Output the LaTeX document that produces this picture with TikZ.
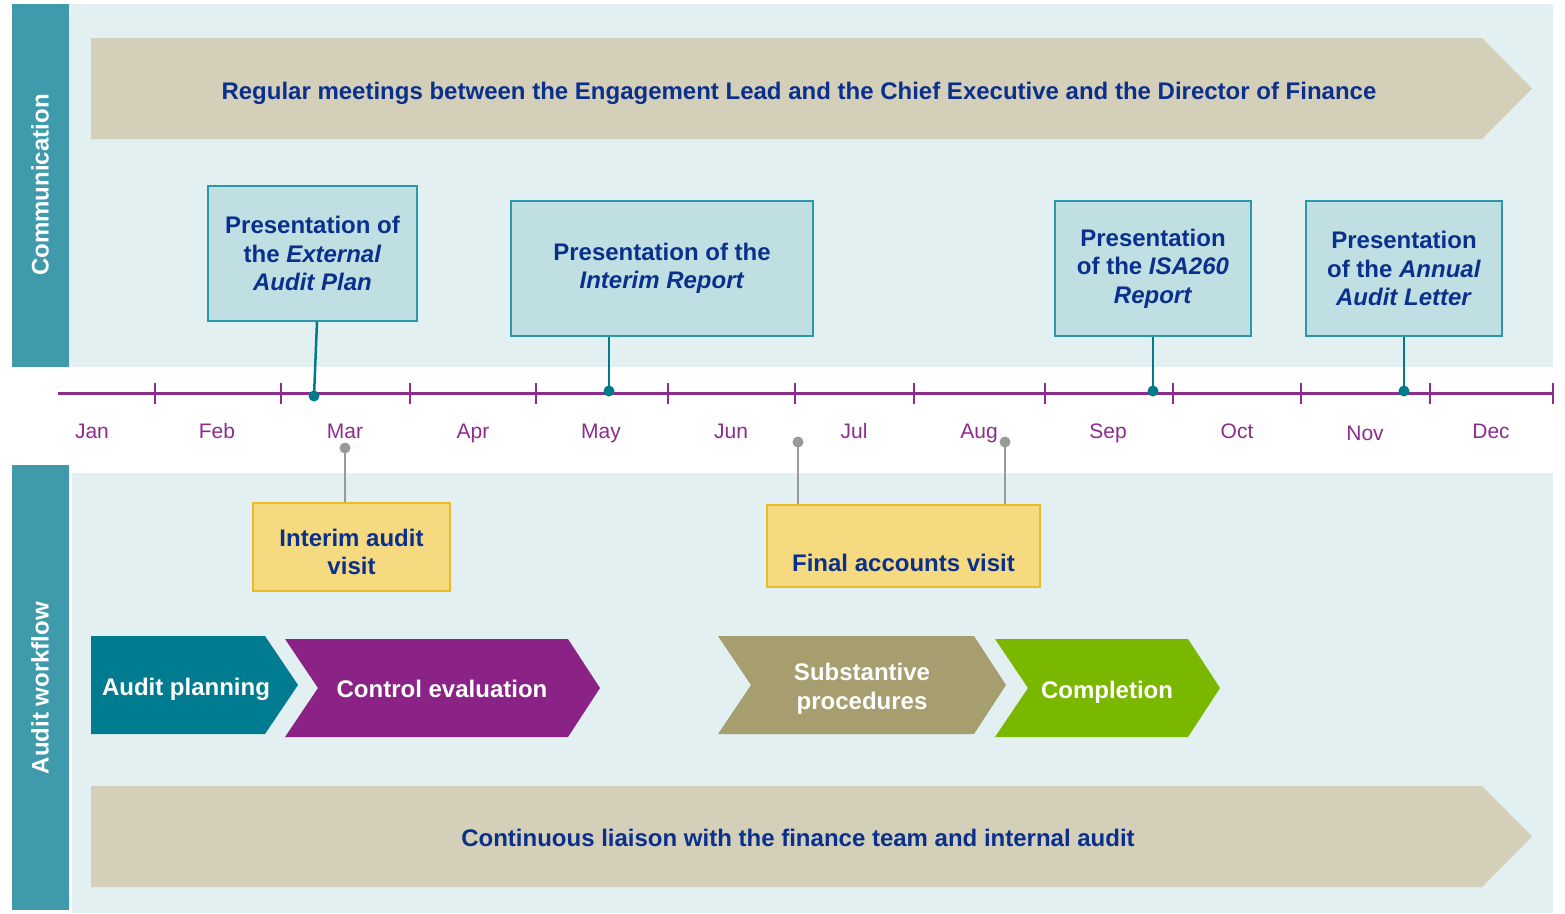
\documentclass[tikz,border=0pt]{standalone}
\usepackage{fontspec}
\setmainfont{Liberation Sans}
\definecolor{side}{RGB}{63,155,171}
\definecolor{panel}{RGB}{226,240,241}
\definecolor{band}{RGB}{212,207,184}
\definecolor{tblue}{RGB}{10,48,140}
\definecolor{boxfill}{RGB}{192,223,227}
\definecolor{boxline}{RGB}{43,151,168}
\definecolor{tlpurple}{RGB}{142,43,142}
\definecolor{tealdot}{RGB}{0,123,140}
\definecolor{yfill}{RGB}{245,218,128}
\definecolor{yline}{RGB}{232,187,40}
\definecolor{cteal}{RGB}{0,123,143}
\definecolor{cpurple}{RGB}{139,35,135}
\definecolor{colive}{RGB}{166,158,111}
\definecolor{cgreen}{RGB}{122,184,0}
\begin{document}
\begin{tikzpicture}[x=1pt,y=-1pt,
  big/.style={font=\fontsize{24}{28.5}\selectfont\bfseries},
  sidelabel/.style={text=white,rotate=90,font=\fontsize{24}{28}\selectfont\bfseries},
  pbox/.style={draw=boxline,line width=1.5pt,fill=boxfill,big,text=tblue,align=center,inner sep=0pt},
  ybox/.style={draw=yline,line width=1.5pt,fill=yfill,inner sep=0pt},
  tl/.style={draw=tlpurple,line width=3pt},
  tick/.style={draw=tlpurple,line width=2.5pt},
  month/.style={text=tlpurple,font=\fontsize{21}{24}\selectfont,anchor=base},
  tdot/.style={circle,fill=tealdot,inner sep=0pt,minimum size=11pt},
  gdot/.style={circle,fill=gray!80,inner sep=0pt,minimum size=11pt},
  tconn/.style={draw=tealdot,line width=2.5pt},
  gconn/.style={draw=gray!80,line width=2pt},
  chevtext/.style={big,text=white,align=center},
]
\useasboundingbox (0,0) rectangle (1565,913);
\fill[white] (0,0) rectangle (1565,913);
% panels
\fill[panel] (69,4) rectangle (1553,367);
\fill[side] (12,4) rectangle (69,367);
\fill[panel] (72,473) rectangle (1553,913);
\fill[side] (12,465) rectangle (69,910);
\node[sidelabel] (comm) at (40,185) {Communication};
\node[sidelabel] (aw) at (40,688) {Audit workflow};
% top band
\fill[band] (91,38) -- (1482,38) -- (1532,88.5) -- (1482,139) -- (91,139) -- cycle;
\node[big,text=tblue,anchor=base] (meet) at (799,99) {Regular meetings between the Engagement Lead and the Chief Executive and the Director of Finance};
% timeline
\draw[tl] (58,393) -- (1553,393);
\foreach \x in {155,281,410,536,668,795,914,1045,1173,1301,1430,1553}
  \draw[tick] (\x,383) -- (\x,404);
\node[month] (jan) at (92,438) {Jan};
\node[month] (feb) at (217,438) {Feb};
\node[month] (mar) at (345,438) {Mar};
\node[month] (apr) at (473,438) {Apr};
\node[month] (may) at (601,438) {May};
\node[month] (jun) at (731,438) {Jun};
\node[month] (jul) at (854,438) {Jul};
\node[month] (aug) at (979,438) {Aug};
\node[month] (sep) at (1108,438) {Sep};
\node[month] (oct) at (1237,438) {Oct};
\node[month] (nov) at (1365,440) {Nov};
\node[month] (dec) at (1491,438) {Dec};
% presentation boxes
\node[pbox,minimum width=209pt,minimum height=135pt] (b1) at (312.5,253.5)
  {Presentation of\\the \textit{External}\\\textit{Audit Plan}};
\node[pbox,minimum width=302pt,minimum height=135pt] (b2) at (662,268.5)
  {Presentation of the\\\textit{Interim Report}};
\node[pbox,minimum width=196pt,minimum height=135pt] (b3) at (1153,268.5)
  {Presentation\\of the \textit{ISA260}\\\textit{Report}};
\node[pbox,minimum width=196pt,minimum height=135pt] (b4) at (1404,268.5)
  {Presentation\\of the \textit{Annual}\\\textit{Audit Letter}};
\node[tdot] (d1) at (314,396) {};
\node[tdot] (d2) at (609,391) {};
\node[tdot] (d3) at (1153,391) {};
\node[tdot] (d4) at (1404,391) {};
\draw[tconn] (b1.south) ++(4.5,0) -- (d1.center);
\draw[tconn] (b2.south -| d2) -- (d2.center);
\draw[tconn] (b3.south) -- (d3.center);
\draw[tconn] (b4.south) -- (d4.center);
% visit boxes
\node[ybox,minimum width=197pt,minimum height=88pt] (iv) at (351.5,547) {};
\node[big,text=tblue,align=center] (ivt) at (351.5,552) {Interim audit\\visit};
\node[ybox,minimum width=273pt,minimum height=82pt] (fv) at (903.5,546) {};
\node[big,text=tblue] (fvt) at (903.5,563) {Final accounts visit};
\node[gdot] (g1) at (345,448) {};
\node[gdot] (g2) at (798,442) {};
\node[gdot] (g3) at (1005,442) {};
\draw[gconn] (g1.center) -- (g1 |- iv.north);
\draw[gconn] (g2.center) -- (g2 |- fv.north);
\draw[gconn] (g3.center) -- (g3 |- fv.north);
% chevrons
\fill[cteal] (91,636) -- (265,636) -- (298,685) -- (265,734) -- (91,734) -- cycle;
\fill[cpurple] (285,639) -- (568,639) -- (600,688) -- (568,737) -- (285,737) -- (318,688) -- cycle;
\fill[colive] (718,636) -- (974,636) -- (1006,685) -- (974,734) -- (718,734) -- (751,685) -- cycle;
\fill[cgreen] (995,639) -- (1188,639) -- (1220,688) -- (1188,737) -- (995,737) -- (1028,688) -- cycle;
\node[chevtext] (ap) at (186,689) {Audit planning};
\node[chevtext] (ce) at (442,689) {Control evaluation};
\node[chevtext] (sp) at (862,689) {Substantive\\procedures};
\node[chevtext] (co) at (1107,692) {Completion};
% bottom band
\fill[band] (91,786) -- (1482,786) -- (1532,836.5) -- (1482,887) -- (91,887) -- cycle;
\node[big,text=tblue] (liaison) at (798,838) {Continuous liaison with the finance team and internal audit};
\end{tikzpicture}
\end{document}
